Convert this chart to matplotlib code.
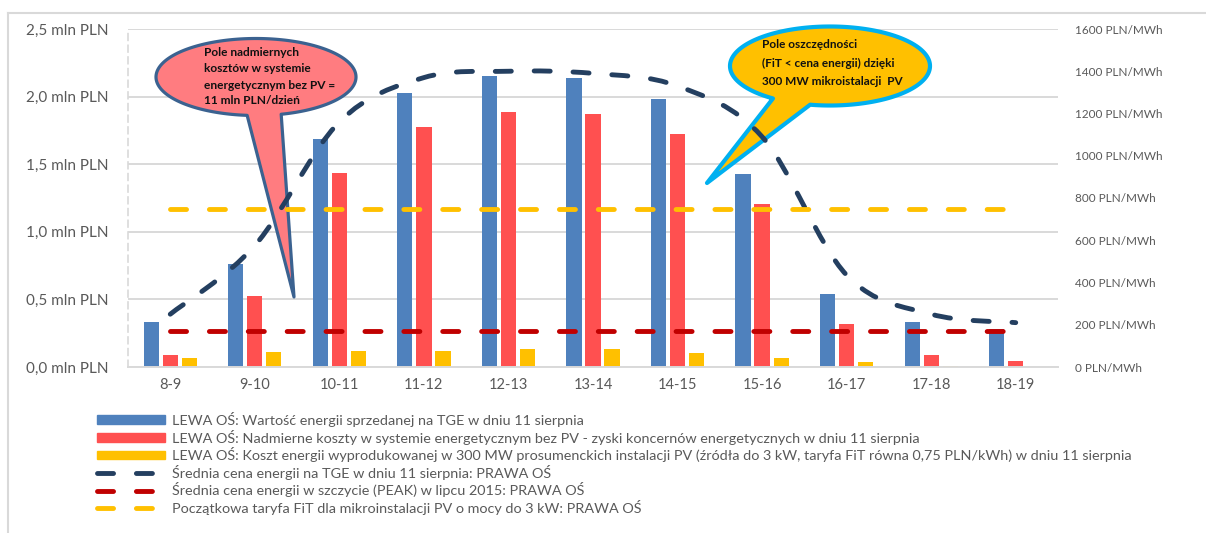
import numpy as np
import matplotlib
matplotlib.use("Agg")
import matplotlib.pyplot as plt
from matplotlib.path import Path
from matplotlib.patches import PathPatch, Patch, Polygon
from matplotlib.lines import Line2D

plt.rcParams['font.family'] = ['Lato', 'DejaVu Sans']

# Dane
godziny = ['8-9', '9-10', '10-11', '11-12', '12-13', '13-14',
           '14-15', '15-16', '16-17', '17-18', '18-19']
# lewa os, mln PLN
wartosc_tge = [0.33, 0.76, 1.69, 2.03, 2.15, 2.14, 1.98, 1.43, 0.54, 0.33, 0.28]
nadmierne_koszty = [0.09, 0.525, 1.435, 1.775, 1.885, 1.87, 1.72, 1.205, 0.32, 0.09, 0.045]
koszt_pv = [0.07, 0.11, 0.12, 0.12, 0.13, 0.13, 0.10, 0.07, 0.04, 0.01, 0.0]
# prawa os, PLN/MWh
cena_tge = [250, 575, 1160, 1370, 1400, 1390, 1330, 1090, 435, 250, 210]
cena_peak = [172] * len(godziny)
taryfa_fit = [750] * len(godziny)

lewe_ticks = [0.0, 0.5, 1.0, 1.5, 2.0, 2.5]
prawe_ticks = [0, 200, 400, 600, 800, 1000, 1200, 1400, 1600]

etykiety = [
    'LEWA OŚ: Wartość energii sprzedanej na TGE w dniu 11 sierpnia',
    'LEWA OŚ: Nadmierne koszty w systemie energetycznym bez PV - zyski koncernów energetycznych w dniu 11 sierpnia',
    'LEWA OŚ: Koszt energii wyprodukowanej w 300 MW prosumenckich instalacji PV (źródła do 3 kW, taryfa FiT równa 0,75 PLN/kWh) w dniu 11 sierpnia',
    'Średnia cena energii na TGE w dniu 11 sierpnia: PRAWA OŚ',
    'Średnia cena energii w szczycie (PEAK) w lipcu 2015: PRAWA OŚ',
    'Początkowa taryfa FiT dla mikroinstalacji PV o mocy do 3 kW: PRAWA OŚ',
]

NIEBIESKI = '#4F81BD'
CZERWONY = '#FF5050'
ZOLTY = '#FFC000'
GRANAT = '#243F60'
BORDO = '#C00000'
SZARY = '#595959'
SIATKA = '#D9D9D9'

W, H = 1206, 533
fig = plt.figure(figsize=(W / 100, H / 100), dpi=100)


def px(x, y):
    # piksele od lewego gornego rogu -> wspolrzedne figury
    return (x / W, 1 - y / H)


ax = fig.add_axes([128 / W, 1 - 367 / H, 930 / W, 338 / H])
x = np.arange(len(godziny))
szer = 0.18
ax.bar(x - 0.225, wartosc_tge, szer, color=NIEBIESKI, zorder=2)
ax.bar(x, nadmierne_koszty, szer, color=CZERWONY, zorder=2)
ax.bar(x + 0.225, koszt_pv, szer, color=ZOLTY, zorder=2)

ax.set_xlim(-0.5, len(godziny) - 0.5)
ax.set_ylim(0, 2.5)
ax.set_xticks(x)
ax.set_xticklabels(godziny, fontsize=10.5, color=SZARY)
ax.set_yticks(lewe_ticks)
ax.set_yticklabels([f'{v:.1f} mln PLN'.replace('.', ',') for v in lewe_ticks],
                   fontsize=11, color=SZARY)
ax.tick_params(length=0)
ax.tick_params(axis='y', pad=14)
ax.tick_params(axis='x', pad=8)
ax.yaxis.grid(True, color=SIATKA, lw=1.4)
ax.set_axisbelow(True)
for s in ['top', 'right']:
    ax.spines[s].set_visible(False)
ax.spines['bottom'].set_color(SIATKA)
ax.spines['bottom'].set_linewidth(1.4)
ax.spines['left'].set_color(SIATKA)
ax.spines['left'].set_linestyle((0, (4, 3)))
ax.spines['left'].set_linewidth(1.2)

# prawa os
ax2 = ax.twinx()
ax2.set_ylim(0, 1600)
ax2.set_yticks(prawe_ticks)
ax2.set_yticklabels([f'{v} PLN/MWh' for v in prawe_ticks], fontsize=8.5, color=SZARY)
ax2.tick_params(length=0, pad=12)
for s in ax2.spines.values():
    s.set_visible(False)

styl = dict(lw=3.5, dashes=(3.3, 4.7), dash_capstyle='round', solid_capstyle='round')
ax2.plot(x, taryfa_fit, color=ZOLTY, **styl)
ax2.plot(x, cena_peak, color=BORDO, **styl)

# wygladzona linia sredniej ceny (krzywe Beziera jak w Excelu)
pts = np.column_stack([x, cena_tge]).astype(float)
verts = [pts[0]]
codes = [Path.MOVETO]
n = len(pts)
for i in range(n - 1):
    p0 = pts[max(i - 1, 0)]
    p1 = pts[i]
    p2 = pts[i + 1]
    p3 = pts[min(i + 2, n - 1)]
    verts += [p1 + (p2 - p0) / 6, p2 - (p3 - p1) / 6, p2]
    codes += [Path.CURVE4] * 3
krzywa = PathPatch(Path(verts, codes), fill=False, edgecolor=GRANAT, lw=3.5,
                   linestyle=(0, (3.3, 4.7)), capstyle='round')
ax2.add_patch(krzywa)


def dymek(cx, cy, a, b, baza_l, baza_p, czubek):
    t1 = np.arctan2((baza_l[1] - cy) / b, (baza_l[0] - cx) / a)
    t2 = np.arctan2((baza_p[1] - cy) / b, (baza_p[0] - cx) / a)
    t1 = t1 % (2 * np.pi)
    t2 = t2 % (2 * np.pi)
    if t2 < t1:
        t2 += 2 * np.pi
    t = np.linspace(t1, t2, 200)
    pkt = [px(cx + a * np.cos(tt), cy + b * np.sin(tt)) for tt in t]
    pkt.append(px(*czubek))
    return pkt


d1 = Polygon(dymek(256, 77, 100, 38.5, (247, 116), (281, 114), (294, 297)),
             closed=True, fc='#FF7C80', ec='#3B6290', lw=2.3,
             transform=fig.transFigure, zorder=5, clip_on=False, joinstyle='round')
ax.add_artist(d1)
for txt, yy in zip(['Pole nadmiernych', 'kosztów w systemie',
                    'energetycznym bez PV =', '11 mln PLN/dzień'],
                   [52, 68, 85, 101]):
    ax.text(*px(204, yy), txt, transform=fig.transFigure, fontsize=8.6,
            fontweight='bold', color='#111111', va='center', ha='left', zorder=6)

d2 = Polygon(dymek(830, 66, 100, 39.5, (772, 99), (810, 105), (707, 183)),
             closed=True, fc=ZOLTY, ec='#00B0F0', lw=3,
             transform=fig.transFigure, zorder=5, clip_on=False, joinstyle='round')
ax.add_artist(d2)
for txt, yy in zip(['Pole oszczędności', '(FiT < cena energii) dzięki',
                    '300 MW mikroistalacji  PV'], [45, 63, 81]):
    ax.text(*px(762, yy), txt, transform=fig.transFigure, fontsize=8.5,
            fontweight='bold', color='#111111', va='center', ha='left', zorder=6)

# legenda
uchwyty = [
    Patch(color=NIEBIESKI), Patch(color=CZERWONY), Patch(color=ZOLTY),
    Line2D([], [], color=GRANAT, **styl),
    Line2D([], [], color=BORDO, **styl),
    Line2D([], [], color=ZOLTY, **styl),
]
fig.legend(uchwyty, etykiety, loc='upper left', bbox_to_anchor=px(97, 412),
           frameon=False, fontsize=10.4, labelcolor=SZARY, handlelength=4.7,
           handleheight=0.56, handletextpad=0.5, labelspacing=0.18,
           borderpad=0, borderaxespad=0)

# ramka wykresu
fig.add_artist(Line2D([8 / W, 1], [1 - 13 / H] * 2, transform=fig.transFigure,
                      color=SIATKA, lw=1.5))
fig.add_artist(Line2D([8 / W] * 2, [0, 1 - 13 / H], transform=fig.transFigure,
                      color=SIATKA, lw=1.5))

fig.savefig('out.png', dpi=100)
